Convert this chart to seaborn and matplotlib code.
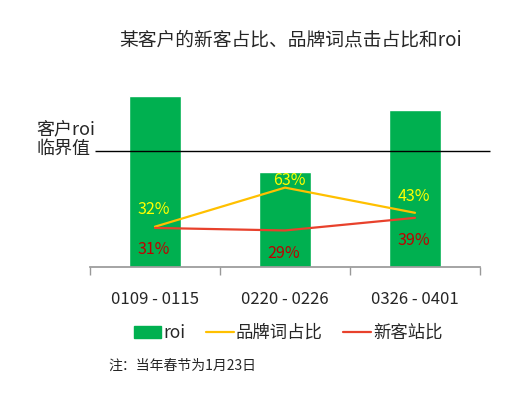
import numpy as np
import matplotlib
matplotlib.use("Agg")
import matplotlib.pyplot as plt
import seaborn as sns
from matplotlib.patches import Patch
from matplotlib.lines import Line2D

# data
periods = ["0109 - 0115", "0220 - 0226", "0326 - 0401"]
roi = [1.47, 0.82, 1.35]          # relative to the client's break-even roi (= 1.0)
roi_threshold = 1.0
brand_share = [0.32, 0.63, 0.43]  # 品牌词占比
new_share = [0.31, 0.29, 0.39]    # 新客站比
brand_labels = ["32%", "63%", "43%"]
new_labels = ["31%", "29%", "39%"]

GREEN = "#00B050"
YELLOW = "#FFC000"
RED = "#E8412C"

sns.set_theme(style="white")
plt.rcParams["font.family"] = ["Noto Sans CJK SC", "DejaVu Sans"]

fig = plt.figure(figsize=(5.24, 3.99), dpi=100)
ax = fig.add_axes([90 / 524, 132 / 399, 390 / 524, 187 / 399])

sns.barplot(x=periods, y=roi, color=GREEN, width=0.4, saturation=1, ax=ax)
ax.set_ylim(0, 187 / 116)
ax.set_xlim(-0.5, 2.5)

# break-even line, runs past the right edge
ax.hlines(roi_threshold, -0.46, 2.58, color="black", lw=1, clip_on=False)
fig.text(36 / 524, 1 - 158 / 399, "客户roi\n临界值", ha="left", va="bottom",
         fontsize=13, linespacing=1.1)

for s in ["left", "right", "top"]:
    ax.spines[s].set_visible(False)
ax.spines["bottom"].set_color("#999999")
ax.set_yticks([])
ax.set_xticks([-0.5, 0.5, 1.5, 2.5], minor=True)
ax.tick_params(axis="x", which="minor", length=6, color="#999999", width=1,
               direction="out", bottom=True)
ax.tick_params(axis="x", which="major", length=0, labelsize=12, pad=17)
ax.set_xlabel("")
ax.set_ylabel("")

ax2 = ax.twinx()
x_idx = np.arange(len(periods))
sns.lineplot(x=x_idx, y=brand_share, color=YELLOW, lw=1.6, ax=ax2)
sns.lineplot(x=x_idx, y=new_share, color=RED, lw=1.6, ax=ax2)
ax2.set_ylim(0, 1.484)
ax2.set_xlim(-0.5, 2.5)
ax2.axis("off")

brand_off = [(-0.01, 0.14), (0.03, 0.053), (-0.01, 0.133)]
new_off = [(-0.01, -0.175), (-0.01, -0.179), (-0.01, -0.176)]
for i in x_idx:
    ax2.text(i + brand_off[i][0], brand_share[i] + brand_off[i][1], brand_labels[i],
             color="#FFFF00", fontsize=11.5, ha="center", va="center")
    ax2.text(i + new_off[i][0], new_share[i] + new_off[i][1], new_labels[i],
             color="#C00000", fontsize=11.5, ha="center", va="center")

fig.text(291 / 524, 1 - 40 / 399, "某客户的新客占比、品牌词点击占比和roi",
         ha="center", va="center", fontsize=13.5)

handles = [Patch(color=GREEN, label="roi"),
           Line2D([0], [0], color=YELLOW, lw=1.6, label="品牌词占比"),
           Line2D([0], [0], color=RED, lw=1.6, label="新客站比")]
fig.legend(handles=handles, loc="center", bbox_to_anchor=(288 / 524, 1 - 333 / 399),
           ncol=3, frameon=False, fontsize=12.5, handlelength=1.6,
           handletextpad=0.1, columnspacing=1.2)

fig.text(108 / 524, 1 - 366 / 399, "注：当年春节为1月23日", ha="left", va="center",
         fontsize=10)

fig.savefig("out.png", dpi=100, facecolor="white")
